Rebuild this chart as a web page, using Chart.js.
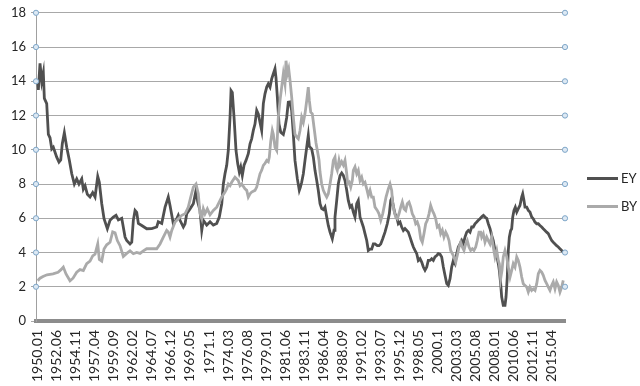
<!DOCTYPE html>
<html>
<head>
<meta charset="utf-8">
<script src="https://cdn.jsdelivr.net/npm/chart.js@4"></script>
<style>
  body { margin: 0; background: #fff; }
  #chart { display: block; }
</style>
</head>
<body>
<canvas id="chart" width="640" height="386"></canvas>
<script>
// axis labels as printed under the chart (Excel drops the trailing zero of .10)
const tickLabels = ['1950.01', '1952.06', '1954.11', '1957.04', '1959.09', '1962.02', '1964.07',
  '1966.12', '1969.05', '1971.1', '1974.03', '1976.08', '1979.01', '1981.06', '1983.11', '1986.04',
  '1988.09', '1991.02', '1993.07', '1995.12', '1998.05', '2000.1', '2003.03', '2005.08', '2008.01',
  '2010.06', '2012.11', '2015.04'];

const yMin = 0;
const yMax = 18;
const yStep = 2;
const xStart = 1949.78;
const xEnd = 2016.96;

const seriesNames = ['EY', 'BY'];
const seriesColors = ['#505050', '#aaaaaa'];

// [decimal year, value]
const eySeries = [
  [1950.00, 14.0], [1950.08, 13.5], [1950.29, 15.05], [1950.51, 14.0], [1950.71, 14.5], [1950.84, 13.0],
  [1951.14, 12.7], [1951.35, 10.9], [1951.56, 10.7], [1951.78, 10.05], [1951.98, 10.15], [1952.41, 9.57],
  [1952.70, 9.28], [1952.92, 9.4], [1953.12, 10.35], [1953.38, 11.0], [1953.68, 10.15], [1954.01, 9.4],
  [1954.32, 8.6], [1954.65, 8.0], [1954.95, 8.3], [1955.24, 8.0], [1955.59, 8.3], [1955.79, 7.7],
  [1956.01, 7.9], [1956.30, 7.4], [1956.64, 7.24], [1956.98, 7.5], [1957.28, 7.24], [1957.62, 8.44],
  [1957.82, 8.1], [1958.13, 6.85], [1958.42, 5.97], [1958.84, 5.39], [1959.18, 5.88], [1959.60, 6.07],
  [1959.94, 6.17], [1960.24, 5.9], [1960.67, 6.0], [1961.09, 4.9], [1961.30, 4.7], [1961.72, 4.5],
  [1961.94, 4.6], [1962.14, 5.88], [1962.36, 6.46], [1962.57, 6.35], [1962.78, 5.7], [1963.21, 5.58],
  [1963.84, 5.39], [1964.48, 5.4], [1965.11, 5.49], [1965.31, 5.8], [1965.75, 5.7], [1966.17, 6.65],
  [1966.58, 7.24], [1966.80, 6.75], [1967.22, 5.68], [1967.65, 5.97], [1967.85, 6.17], [1968.07, 5.88],
  [1968.49, 5.49], [1968.71, 5.68], [1968.92, 6.26], [1969.34, 6.55], [1969.76, 6.85], [1970.10, 7.63],
  [1970.32, 6.95], [1970.61, 6.46], [1970.83, 5.29], [1971.03, 5.88], [1971.46, 5.6], [1971.88, 5.8],
  [1972.30, 5.6], [1972.73, 5.7], [1973.06, 6.07], [1973.37, 6.85], [1973.57, 8.0], [1973.78, 8.6],
  [1974.00, 9.09], [1974.20, 9.96], [1974.42, 11.9], [1974.55, 13.46], [1974.71, 13.35], [1974.93, 11.9],
  [1975.18, 9.96], [1975.40, 9.18], [1975.60, 8.7], [1975.78, 9.0], [1975.98, 8.5], [1976.20, 9.1],
  [1976.45, 9.38], [1976.74, 9.77], [1976.96, 10.35], [1977.17, 10.64], [1977.38, 11.13], [1977.59, 11.5],
  [1977.81, 12.3], [1978.01, 12.1], [1978.23, 11.6], [1978.44, 11.13], [1978.65, 12.7], [1978.86, 13.27],
  [1979.08, 13.66], [1979.28, 13.85], [1979.50, 13.66], [1979.71, 14.14], [1979.92, 14.44], [1980.13, 14.73],
  [1980.26, 14.2], [1980.43, 13.07], [1980.64, 11.5], [1980.86, 11.03], [1981.19, 10.9], [1981.40, 11.3],
  [1981.62, 11.9], [1981.82, 12.78], [1982.04, 12.8], [1982.25, 12.3], [1982.46, 10.9], [1982.67, 9.38],
  [1982.97, 8.3], [1983.22, 7.63], [1983.35, 7.8], [1983.52, 8.1], [1983.73, 8.6], [1983.94, 9.38],
  [1984.16, 10.15], [1984.36, 10.84], [1984.49, 10.2], [1984.79, 10.05], [1985.00, 9.57], [1985.21, 8.8],
  [1985.43, 8.2], [1985.63, 7.63], [1985.85, 6.85], [1986.06, 6.56], [1986.27, 6.5], [1986.48, 6.65],
  [1986.70, 6.07], [1986.90, 5.58], [1987.12, 5.19], [1987.41, 4.8], [1987.63, 5.3], [1987.75, 6.07],
  [1987.97, 7.04], [1988.17, 8.0], [1988.39, 8.5], [1988.60, 8.64], [1988.81, 8.5], [1989.02, 8.2],
  [1989.24, 7.63], [1989.44, 7.04], [1989.66, 6.65], [1989.87, 6.75], [1990.08, 6.36], [1990.29, 6.07],
  [1990.51, 6.85], [1990.71, 7.04], [1990.93, 6.07], [1991.14, 5.78], [1991.35, 5.49], [1991.56, 5.1],
  [1991.78, 4.7], [1991.98, 4.12], [1992.20, 4.2], [1992.41, 4.2], [1992.62, 4.5], [1992.83, 4.5],
  [1993.12, 4.4], [1993.34, 4.4], [1993.56, 4.5], [1993.81, 4.8], [1994.10, 5.19], [1994.39, 5.68],
  [1994.65, 6.26], [1994.83, 7.04], [1994.99, 7.2], [1995.16, 6.7], [1995.37, 6.26], [1995.59, 6.07],
  [1995.79, 5.68], [1996.01, 5.78], [1996.22, 5.49], [1996.43, 5.29], [1996.64, 5.4], [1996.86, 5.29],
  [1997.06, 5.19], [1997.28, 4.9], [1997.49, 4.6], [1997.70, 4.32], [1997.91, 4.12], [1998.13, 3.93],
  [1998.33, 3.54], [1998.55, 3.64], [1998.76, 3.44], [1998.97, 3.15], [1999.18, 2.96], [1999.40, 3.15],
  [1999.60, 3.54], [1999.82, 3.54], [2000.03, 3.64], [2000.24, 3.54], [2000.45, 3.74], [2000.67, 3.83],
  [2000.87, 3.93], [2001.09, 3.9], [2001.30, 3.74], [2001.51, 3.15], [2001.72, 2.67], [2001.94, 2.18],
  [2002.14, 2.08], [2002.36, 2.47], [2002.57, 3.15], [2002.78, 3.54], [2002.99, 3.35], [2003.21, 3.93],
  [2003.41, 4.32], [2003.63, 4.5], [2003.84, 4.7], [2004.04, 4.5], [2004.26, 4.9], [2004.48, 5.19],
  [2004.68, 5.29], [2004.90, 5.19], [2005.11, 5.49], [2005.31, 5.49], [2005.53, 5.68], [2005.75, 5.78],
  [2005.95, 5.88], [2006.17, 5.97], [2006.42, 6.1], [2006.60, 6.17], [2006.80, 6.07], [2007.02, 6.0],
  [2007.22, 5.68], [2007.44, 5.39], [2007.65, 5.0], [2007.85, 4.7], [2008.07, 4.12], [2008.29, 3.83],
  [2008.49, 3.35], [2008.62, 2.96], [2008.79, 2.18], [2008.92, 1.4], [2009.12, 0.91], [2009.34, 0.91],
  [2009.47, 1.4], [2009.63, 2.57], [2009.76, 4.12], [2009.89, 4.9], [2010.06, 5.29], [2010.19, 5.39],
  [2010.32, 6.07], [2010.48, 6.46], [2010.65, 6.65], [2010.83, 6.36], [2011.03, 6.56], [2011.24, 6.75],
  [2011.46, 7.24], [2011.59, 7.43], [2011.75, 7.04], [2011.88, 6.65], [2012.10, 6.65], [2012.30, 6.46],
  [2012.51, 6.36], [2012.73, 6.07], [2012.93, 5.97], [2013.15, 5.78], [2013.37, 5.68], [2013.57, 5.68],
  [2013.78, 5.58], [2014.00, 5.49], [2014.20, 5.39], [2014.42, 5.29], [2014.63, 5.19], [2014.84, 5.1],
  [2015.05, 4.9], [2015.27, 4.7], [2015.47, 4.6], [2015.69, 4.5], [2015.90, 4.4], [2016.11, 4.32],
  [2016.32, 4.22], [2016.54, 4.12], [2016.74, 4.03]
];

const bySeries = [
  [1950.00, 2.35], [1950.29, 2.5], [1950.67, 2.6], [1951.18, 2.7], [1951.94, 2.75], [1952.58, 2.85],
  [1952.96, 3.0], [1953.25, 3.15], [1953.59, 2.75], [1954.10, 2.35], [1954.48, 2.5], [1954.95, 2.85],
  [1955.37, 3.0], [1955.79, 2.95], [1956.22, 3.35], [1956.64, 3.5], [1956.98, 3.8], [1957.28, 3.9],
  [1957.62, 4.5], [1957.82, 3.6], [1958.13, 3.5], [1958.42, 4.2], [1958.76, 4.45], [1959.18, 4.6],
  [1959.52, 5.2], [1959.82, 5.15], [1960.11, 4.7], [1960.45, 4.4], [1960.87, 3.77], [1961.30, 3.95],
  [1961.72, 4.1], [1962.14, 3.93], [1962.57, 4.0], [1962.99, 3.95], [1963.41, 4.1], [1963.84, 4.22],
  [1964.48, 4.22], [1965.11, 4.22], [1965.53, 4.5], [1965.95, 4.9], [1966.38, 5.29], [1966.58, 5.2],
  [1966.80, 4.9], [1967.02, 5.29], [1967.44, 5.78], [1967.85, 5.97], [1968.29, 6.17], [1968.71, 6.26],
  [1969.12, 6.65], [1969.43, 7.24], [1969.76, 7.82], [1970.10, 8.0], [1970.39, 7.43], [1970.61, 6.26],
  [1970.83, 5.97], [1971.03, 6.55], [1971.24, 6.26], [1971.54, 6.55], [1971.88, 6.2], [1972.30, 6.46],
  [1972.73, 6.65], [1973.06, 6.95], [1973.37, 7.24], [1973.78, 7.53], [1974.00, 7.72], [1974.20, 8.0],
  [1974.42, 7.9], [1974.63, 8.1], [1975.05, 8.4], [1975.47, 8.2], [1975.69, 7.9], [1975.90, 8.0],
  [1976.32, 7.72], [1976.54, 7.63], [1976.74, 7.24], [1976.96, 7.43], [1977.17, 7.53], [1977.59, 7.63],
  [1977.81, 7.82], [1978.01, 8.2], [1978.23, 8.6], [1978.44, 8.8], [1978.65, 9.09], [1978.86, 9.2],
  [1979.08, 9.38], [1979.28, 9.3], [1979.41, 9.57], [1979.59, 10.5], [1979.79, 11.13], [1979.92, 10.9],
  [1980.13, 10.15], [1980.35, 9.96], [1980.55, 11.9], [1980.77, 12.88], [1980.98, 13.66], [1981.19, 14.44],
  [1981.40, 13.85], [1981.53, 15.2], [1981.70, 14.44], [1981.87, 14.73], [1982.04, 14.05], [1982.25, 13.07],
  [1982.46, 11.9], [1982.67, 10.9], [1982.89, 10.74], [1983.09, 10.64], [1983.31, 11.13], [1983.52, 11.9],
  [1983.73, 11.6], [1983.94, 12.1], [1984.16, 12.88], [1984.36, 13.66], [1984.49, 12.88], [1984.67, 12.2],
  [1984.87, 12.1], [1985.09, 11.3], [1985.34, 10.4], [1985.51, 9.96], [1985.72, 9.4], [1985.85, 8.7],
  [1986.06, 8.0], [1986.27, 7.63], [1986.48, 7.43], [1986.70, 7.24], [1986.90, 7.43], [1987.12, 8.0],
  [1987.33, 8.6], [1987.54, 9.38], [1987.75, 9.57], [1987.88, 9.0], [1988.04, 8.8], [1988.26, 9.38],
  [1988.39, 9.1], [1988.60, 9.3], [1988.81, 9.1], [1989.02, 9.38], [1989.24, 8.6], [1989.37, 8.0],
  [1989.57, 8.1], [1989.75, 7.82], [1989.95, 8.2], [1990.08, 8.8], [1990.29, 9.0], [1990.51, 8.6],
  [1990.71, 8.8], [1990.93, 8.2], [1991.14, 8.4], [1991.35, 8.0], [1991.56, 8.1], [1991.78, 7.72],
  [1991.98, 7.33], [1992.20, 7.63], [1992.41, 7.24], [1992.62, 7.24], [1992.83, 6.65], [1993.12, 6.46],
  [1993.34, 6.26], [1993.56, 5.88], [1993.81, 6.26], [1993.98, 6.65], [1994.23, 7.24], [1994.52, 7.72],
  [1994.74, 8.0], [1994.95, 7.63], [1995.08, 6.85], [1995.24, 6.46], [1995.46, 6.07], [1995.66, 5.97],
  [1995.88, 6.26], [1996.10, 6.65], [1996.30, 6.95], [1996.51, 6.56], [1996.73, 6.46], [1996.93, 6.85],
  [1997.15, 6.95], [1997.37, 6.65], [1997.57, 6.26], [1997.78, 6.07], [1998.00, 5.68], [1998.20, 5.78],
  [1998.42, 5.49], [1998.64, 4.8], [1998.84, 4.6], [1999.05, 5.1], [1999.27, 5.68], [1999.47, 5.88],
  [1999.69, 6.26], [1999.90, 6.75], [2000.11, 6.46], [2000.32, 6.26], [2000.54, 5.97], [2000.74, 5.49],
  [2000.96, 5.58], [2001.17, 5.1], [2001.38, 5.3], [2001.59, 4.9], [2001.81, 5.19], [2002.01, 5.0],
  [2002.23, 4.7], [2002.44, 4.12], [2002.65, 3.93], [2002.86, 3.74], [2003.08, 3.44], [2003.28, 3.83],
  [2003.50, 4.32], [2003.71, 4.6], [2003.92, 4.32], [2004.13, 4.12], [2004.35, 4.5], [2004.55, 4.7],
  [2004.77, 4.32], [2004.98, 4.12], [2005.19, 4.22], [2005.40, 4.12], [2005.62, 4.32], [2005.82, 4.7],
  [2006.04, 5.19], [2006.25, 5.19], [2006.38, 4.9], [2006.58, 5.1], [2006.80, 4.6], [2007.02, 4.9],
  [2007.22, 4.7], [2007.44, 4.5], [2007.65, 4.9], [2007.85, 4.32], [2008.07, 3.74], [2008.29, 4.12],
  [2008.49, 3.54], [2008.62, 3.35], [2008.79, 2.47], [2008.96, 2.96], [2009.12, 3.74], [2009.34, 4.12],
  [2009.56, 3.74], [2009.76, 3.15], [2009.98, 2.57], [2010.19, 2.96], [2010.39, 3.35], [2010.61, 3.15],
  [2010.83, 3.74], [2011.03, 3.54], [2011.24, 3.15], [2011.46, 2.57], [2011.66, 2.18], [2011.88, 2.08],
  [2012.10, 1.98], [2012.30, 1.69], [2012.51, 1.98], [2012.73, 1.79], [2012.93, 1.88], [2013.15, 1.79],
  [2013.37, 2.18], [2013.57, 2.76], [2013.78, 2.96], [2014.00, 2.86], [2014.20, 2.67], [2014.42, 2.37],
  [2014.63, 2.18], [2014.84, 1.98], [2015.05, 1.79], [2015.27, 2.08], [2015.47, 2.28], [2015.69, 1.88],
  [2015.90, 2.28], [2016.11, 2.08], [2016.32, 1.69], [2016.54, 1.98], [2016.74, 2.37]
];

const FONT = 'Lato, "Open Sans", sans-serif';
const TEXT_COLOR = '#262626';

function labelToYear(label) {
  const parts = label.split('.');
  const month = parseInt(parts[1].padEnd(2, '0'), 10);
  return parseInt(parts[0], 10) + (month - 1) / 12;
}

const tickValues = tickLabels.map(labelToYear);

function toPoints(series) {
  return series.map(p => ({ x: p[0], y: p[1] }));
}

// small round markers where the gridlines meet both vertical edges
const edgeMarkers = {
  id: 'edgeMarkers',
  afterDatasetsDraw(chart) {
    const { ctx, chartArea, scales } = chart;
    ctx.save();
    ctx.lineWidth = 1;
    ctx.strokeStyle = '#7ea6c8';
    ctx.fillStyle = '#dde9f4';
    scales.y.ticks.forEach(t => {
      if (t.value === yMin) return;
      const y = scales.y.getPixelForValue(t.value);
      [chartArea.left, chartArea.right].forEach(x => {
        ctx.beginPath();
        ctx.arc(x, y, 2.6, 0, Math.PI * 2);
        ctx.fill();
        ctx.stroke();
      });
    });
    ctx.restore();
  }
};

// legend on the right, centred on the canvas height
const sideLegend = {
  id: 'sideLegend',
  afterDraw(chart) {
    const { ctx, chartArea } = chart;
    const x0 = chartArea.right + 22;
    const lineLen = 31;
    const rowGap = 28;
    const midY = chart.height / 2;
    const n = chart.data.datasets.length;
    ctx.save();
    ctx.font = '13px ' + FONT;
    ctx.textBaseline = 'middle';
    seriesNames.forEach((name, i) => {
      const y = Math.round(midY - (n - 1) * rowGap / 2 + i * rowGap) - 0.5;
      ctx.strokeStyle = seriesColors[i];
      ctx.lineWidth = 3;
      ctx.beginPath();
      ctx.moveTo(x0, y);
      ctx.lineTo(x0 + lineLen, y);
      ctx.stroke();
      ctx.fillStyle = TEXT_COLOR;
      ctx.fillText(name, x0 + lineLen + 3, y);
    });
    ctx.restore();
  }
};

const ctx = document.getElementById('chart').getContext('2d');

new Chart(ctx, {
  type: 'line',
  data: {
    datasets: [
      {
        label: seriesNames[0],
        data: toPoints(eySeries),
        borderColor: seriesColors[0],
        borderWidth: 2.8,
        pointRadius: 0,
        tension: 0,
        order: 1
      },
      {
        label: seriesNames[1],
        data: toPoints(bySeries),
        borderColor: seriesColors[1],
        borderWidth: 2.8,
        pointRadius: 0,
        tension: 0,
        order: 0
      }
    ]
  },
  options: {
    responsive: false,
    animation: false,
    devicePixelRatio: 1,
    layout: {
      padding: { top: 11, right: 75, left: 0, bottom: 0 }
    },
    plugins: {
      legend: { display: false },
      tooltip: { enabled: false }
    },
    scales: {
      x: {
        type: 'linear',
        min: xStart,
        max: xEnd,
        afterBuildTicks: (scale) => {
          scale.ticks = tickValues.map(v => ({ value: v }));
        },
        afterFit: (scale) => {
          scale.height = 65;
        },
        grid: { display: false, drawTicks: false },
        border: { display: true, color: '#8c8c8c', width: 4 },
        ticks: {
          autoSkip: false,
          maxRotation: 90,
          minRotation: 90,
          padding: 9,
          color: TEXT_COLOR,
          font: { family: FONT, size: 14 },
          callback: (value, index) => tickLabels[index]
        }
      },
      y: {
        min: yMin,
        max: yMax,
        afterFit: (scale) => {
          scale.width = 36;
        },
        grid: {
          color: '#a8a8a8',
          lineWidth: 1,
          drawTicks: true,
          tickLength: 5
        },
        border: { display: true, color: '#a0a0a0', width: 1 },
        ticks: {
          stepSize: yStep,
          padding: 5,
          color: TEXT_COLOR,
          font: { family: FONT, size: 13 }
        }
      }
    }
  },
  plugins: [edgeMarkers, sideLegend]
});
</script>
</body>
</html>
